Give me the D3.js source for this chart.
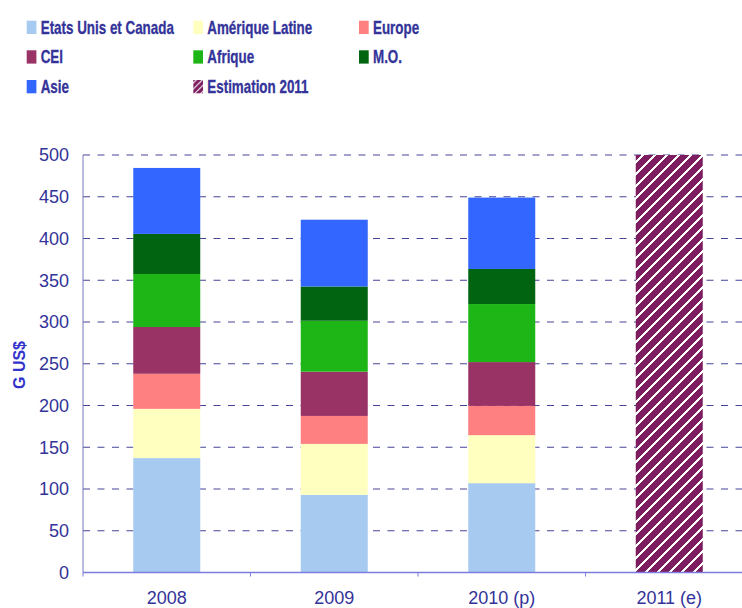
<!DOCTYPE html>
<html><head><meta charset="utf-8">
<script src="https://cdn.jsdelivr.net/npm/d3@7"></script>
<style>
body{margin:0;background:#fff;}
svg{display:block;}
</style></head>
<body>
<svg id="chart" width="742" height="608"></svg>
<script>
const categories = ["2008", "2009", "2010 (p)", "2011 (e)"];
const seriesNames = ["Etats Unis et Canada", "Amérique Latine", "Europe", "CEI", "Afrique", "M.O.", "Asie"];
const usCanada   = [137, 93, 107, null];
const ameriqueLat= [59, 61, 57.5, null];
const europe     = [42, 33.5, 35, null];
const cei        = [56, 53, 52.5, null];
const afrique    = [63.5, 61, 69.5, null];
const mo         = [48, 41, 42, null];
const asie       = [79, 80, 85.5, null];
const estimation = [null, null, null, 500];
const yTicks = [0, 50, 100, 150, 200, 250, 300, 350, 400, 450, 500];
const estimationLabel = "Estimation 2011";
const yLabel = "G US$";

const seriesValues = [usCanada, ameriqueLat, europe, cei, afrique, mo, asie];
const colors = ["#a6caf0", "#ffffc0", "#ff8080", "#993366", "#1eb616", "#006411", "#3366ff"];
const hatchColor = "#7d1c5e";
const textColor = "#333399";

const svg = d3.select("#chart");
const defs = svg.append("defs");
const pat = defs.append("pattern").attr("id", "hatch")
  .attr("patternUnits", "userSpaceOnUse").attr("width", 12).attr("height", 12);
pat.append("rect").attr("width", 12).attr("height", 12).attr("fill", "#fff");
pat.append("path").attr("d", "M-3,3 L3,-3 M-3,15 L15,-3 M9,15 L15,9")
  .attr("stroke", hatchColor).attr("stroke-width", 5.8).attr("shape-rendering", "crispEdges");

const x = d3.scaleBand().domain(categories).range([83, 753]).paddingInner(0.6).paddingOuter(0.3);
const y = d3.scaleLinear().domain([0, 500]).range([572.5, 155]);

// gridlines
svg.append("g").selectAll("line").data(yTicks.filter(t => t > 0)).join("line")
  .attr("x1", 83).attr("x2", 753)
  .attr("y1", d => y(d)).attr("y2", d => y(d))
  .attr("stroke", "#444499").attr("stroke-width", 1)
  .attr("stroke-dasharray", "7,7.5");

// stacked data
const table = categories.map((c, i) => {
  const o = {cat: c};
  seriesNames.forEach((s, j) => o[s] = seriesValues[j][i] || 0);
  return o;
});
const stack = d3.stack().keys(seriesNames)(table);
svg.append("g").selectAll("g").data(stack).join("g")
  .attr("fill", (d, i) => colors[i])
  .selectAll("rect").data(d => d.filter(p => p[1] > p[0])).join("rect")
  .attr("x", d => x(d.data.cat)).attr("width", x.bandwidth())
  .attr("y", d => y(d[1])).attr("height", d => y(d[0]) - y(d[1]));

// estimation bar
svg.append("g").selectAll("rect").data(categories.map((c, i) => ({cat: c, v: estimation[i]})).filter(d => d.v))
  .join("rect")
  .attr("x", d => x(d.cat)).attr("width", x.bandwidth())
  .attr("y", d => y(d.v)).attr("height", d => y(0) - y(d.v))
  .attr("fill", "url(#hatch)");

// y axis line
svg.append("line").attr("x1", 83).attr("x2", 83).attr("y1", y(500)).attr("y2", y(0))
  .attr("stroke", "#7777bb").attr("stroke-width", 1);

// y tick labels
svg.append("g").selectAll("text").data(yTicks).join("text")
  .attr("x", 69).attr("y", d => y(d)).attr("dy", "0.36em")
  .attr("text-anchor", "end").attr("fill", textColor)
  .attr("font-family", "Liberation Sans, Arial, sans-serif").attr("font-size", 18)
  .text(d => d);

// x axis
svg.append("line").attr("x1", 83).attr("x2", 753).attr("y1", y(0)).attr("y2", y(0))
  .attr("stroke", "#7b7be0").attr("stroke-width", 1.6);
const bounds = categories.map((c, i) => x(c) - x.step() * x.paddingOuter());
bounds.push(753);
svg.append("g").selectAll("line").data(bounds).join("line")
  .attr("x1", d => d).attr("x2", d => d).attr("y1", y(0)).attr("y2", y(0) + 4)
  .attr("stroke", "#7b7be0").attr("stroke-width", 1);
svg.append("g").selectAll("text").data(categories).join("text")
  .attr("x", d => x(d) + x.bandwidth() / 2).attr("y", 604)
  .attr("text-anchor", "middle").attr("fill", textColor)
  .attr("font-family", "Liberation Sans, Arial, sans-serif").attr("font-size", 18)
  .text(d => d);

// y label
svg.append("text").attr("transform", "translate(25,365) rotate(-90)")
  .attr("text-anchor", "middle").attr("fill", "#3333cc")
  .attr("font-family", "Liberation Sans, Arial, sans-serif").attr("font-weight", "bold")
  .attr("font-size", 16).text(yLabel);

// legend
const legendItems = seriesNames.map((n, i) => ({name: n, fill: colors[i]}));
legendItems.push({name: estimationLabel, fill: "url(#hatchSmall)"});
const pat2 = defs.append("pattern").attr("id", "hatchSmall")
  .attr("patternUnits", "userSpaceOnUse").attr("width", 6).attr("height", 6);
pat2.append("rect").attr("width", 6).attr("height", 6).attr("fill", "#fff");
pat2.append("path").attr("d", "M-1.5,1.5 L1.5,-1.5 M-1.5,7.5 L7.5,-1.5 M4.5,7.5 L7.5,4.5")
  .attr("stroke", hatchColor).attr("stroke-width", 3.2);
const colX = [26.7, 193.3, 359];
const rowY = [20.7, 50.3, 80];
const lg = svg.append("g").selectAll("g").data(legendItems).join("g")
  .attr("transform", (d, i) => `translate(${colX[i % 3]},${rowY[Math.floor(i / 3)]})`);
lg.append("rect").attr("width", 9.7).attr("height", 13.3).attr("fill", d => d.fill);
lg.append("text").attr("transform", "translate(14,12.8) scale(0.765,1)")
  .attr("fill", textColor).attr("font-weight", "bold")
  .attr("font-family", "Liberation Sans, Arial, sans-serif").attr("font-size", 17.5)
  .attr("stroke", textColor).attr("stroke-width", 0.3)
  .text(d => d.name);
</script>
</body></html>
